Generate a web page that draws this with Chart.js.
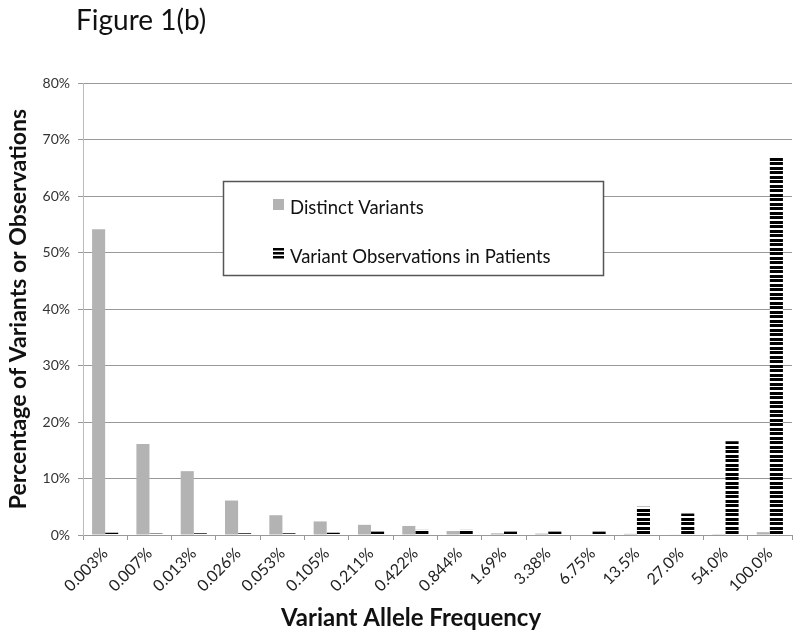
<!DOCTYPE html>
<html>
<head>
<meta charset="utf-8">
<script src="https://cdn.jsdelivr.net/npm/chart.js@4/dist/chart.umd.min.js"></script>
<style>
  html, body { margin: 0; padding: 0; background: #fff; }
  #wrap { width: 800px; height: 638px; position: relative; }
</style>
</head>
<body>
<div id="wrap"><canvas id="c" width="800" height="638"></canvas></div>
<script>
const categories = ['0.003%', '0.007%', '0.013%', '0.026%', '0.053%', '0.105%', '0.211%', '0.422%',
  '0.844%', '1.69%', '3.38%', '6.75%', '13.5%', '27.0%', '54.0%', '100.0%'];
const distinctVariants = [54.1, 16.1, 11.3, 6.1, 3.5, 2.4, 1.8, 1.6, 0.7, 0.3, 0.25, 0.0, 0.2, 0.1, 0.15, 0.5];
const variantObservations = [0.4, 0.25, 0.3, 0.3, 0.3, 0.4, 0.6, 0.9, 0.9, 0.6, 0.6, 0.6, 5.0, 3.8, 16.6, 66.9];
const seriesLabels = ['Distinct Variants', 'Variant Observations in Patients'];
const yTicks = [0, 10, 20, 30, 40, 50, 60, 70, 80];
const chartTitle = 'Figure 1(b)';
const xTitle = 'Variant Allele Frequency';
const yTitle = 'Percentage of Variants or Observations';

const FONT = 'Lato, "Open Sans", sans-serif';
const GREY = '#b3b3b3';

function stripePattern() {
  const p = document.createElement('canvas');
  p.width = 4; p.height = 9;
  const g = p.getContext('2d');
  g.fillStyle = '#ffffff'; g.fillRect(0, 0, 4, 9);
  g.fillStyle = '#000000';
  g.fillRect(0, 0, 4, 3);
  g.fillRect(0, 5, 4, 3);
  return g.createPattern(p, 'repeat');
}
const stripes = stripePattern();

const overlay = {
  id: 'overlay',
  afterDraw(chart) {
    const ctx = chart.ctx;
    ctx.save();
    // Title
    ctx.fillStyle = '#111';
    ctx.font = '28px ' + FONT;
    ctx.textAlign = 'left';
    ctx.textBaseline = 'alphabetic';
    ctx.fillText(chartTitle, 76, 30);
    // X axis title
    ctx.font = 'bold 24px ' + FONT;
    ctx.textAlign = 'center';
    ctx.fillText(xTitle, 411, 626);
    // Y axis title
    ctx.save();
    ctx.translate(26, (chart.chartArea.top + chart.chartArea.bottom) / 2);
    ctx.rotate(-Math.PI / 2);
    ctx.font = 'bold 23px ' + FONT;
    ctx.textAlign = 'center';
    ctx.fillText(yTitle, 0, 0);
    ctx.restore();
    // Legend box
    ctx.fillStyle = '#fff';
    ctx.fillRect(223, 181, 381, 95);
    ctx.strokeStyle = '#555';
    ctx.lineWidth = 1.5;
    ctx.strokeRect(223.5, 181.5, 380, 94);
    // markers
    ctx.fillStyle = GREY;
    ctx.fillRect(273, 199, 11, 11);
    ctx.fillStyle = '#000';
    ctx.fillRect(273, 248, 11, 2.5);
    ctx.fillRect(273, 252, 11, 2.5);
    ctx.fillRect(273, 256, 11, 2.5);
    // text
    ctx.fillStyle = '#111';
    ctx.font = '18.5px ' + FONT;
    ctx.textAlign = 'left';
    ctx.fillText(chart.data.datasets[0].label, 290, 214);
    ctx.fillText(chart.data.datasets[1].label, 290, 263);
    ctx.restore();
  }
};

new Chart(document.getElementById('c'), {
  type: 'bar',
  data: {
    labels: categories,
    datasets: [
      { label: seriesLabels[0], data: distinctVariants, backgroundColor: GREY, borderWidth: 0 },
      { label: seriesLabels[1], data: variantObservations, backgroundColor: stripes, borderWidth: 0 }
    ]
  },
  options: {
    responsive: false,
    animation: false,
    layout: { padding: { top: 83, right: 8, left: 0, bottom: 0 } },
    datasets: { bar: { barPercentage: 1.0, categoryPercentage: 0.59 } },
    plugins: { legend: { display: false }, tooltip: { enabled: false }, title: { display: false } },
    scales: {
      x: {
        grid: { display: true, drawOnChartArea: false, drawTicks: true, tickLength: 5, color: '#999', offset: true },
        border: { color: '#999', width: 1 },
        ticks: { minRotation: 45, maxRotation: 45, autoSkip: false, color: '#222', padding: 4,
          font: { family: FONT, size: 16 } },
        afterFit: (s) => { s.height = 103; }
      },
      y: {
        min: 0, max: 80,
        afterBuildTicks: (s) => { s.ticks = yTicks.map(v => ({ value: v })); },
        grid: { color: '#999', tickLength: 5 },
        border: { color: '#bbb', width: 1 },
        ticks: { color: '#333', padding: 8, font: { family: FONT, size: 14 },
          callback: (v) => v + '%' },
        afterFit: (s) => { s.width = 83; }
      }
    }
  },
  plugins: [overlay]
});
</script>
</body>
</html>
